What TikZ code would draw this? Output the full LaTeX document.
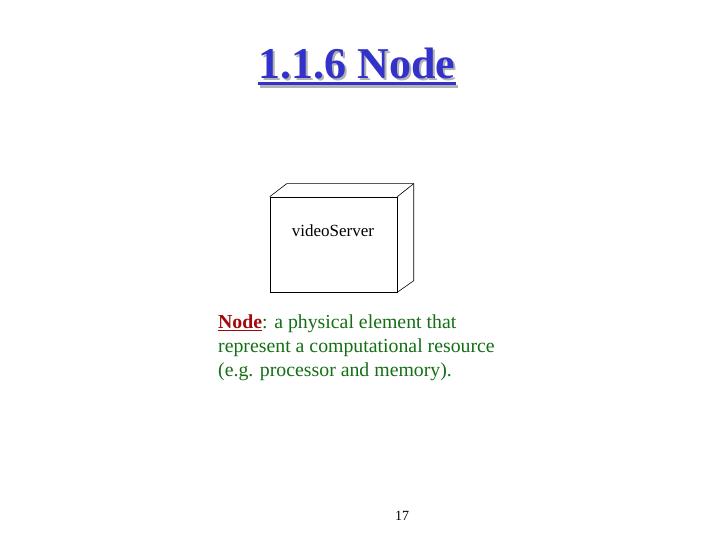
\documentclass[tikz,border=0pt]{standalone}
\usepackage{fontspec}
\setmainfont{Liberation Serif}
\usepackage{xcolor}
\usetikzlibrary{positioning,calc}
\definecolor{titleblue}{RGB}{51,51,204}
\definecolor{textgreen}{RGB}{20,110,20}
\definecolor{alertred}{RGB}{160,10,10}

\begin{document}
\begin{tikzpicture}[x=1pt,y=-1pt]
    \useasboundingbox (0,0) rectangle (720,540);

    % Title with its shadow
    \node[text=gray!60,inner sep=0pt,font=\fontsize{44}{48}\selectfont\bfseries] (titleshadow) at (359,66) {1.1.6 Node};
    \node[text=titleblue,inner sep=0pt,font=\fontsize{44}{48}\selectfont\bfseries] (title) at (357,64) {1.1.6 Node};
    \draw[gray!60,line width=3pt] ($(titleshadow.base west)+(0,6)$) -- ($(titleshadow.base east)+(0,6)$);
    \draw[titleblue,line width=3pt] ($(title.base west)+(0,4.5)$) -- ($(title.base east)+(0,4.5)$);

    % Node (3D box)
    \node[draw,semithick,minimum width=127pt,minimum height=95pt] (server) at (333.5,244.5) {};
    \node[font=\fontsize{17}{20}\selectfont] (servername) at (333,231) {videoServer};
    \draw[semithick] (server.north west) -- ++(17,-13) coordinate (backtl) -- ++(127,0) coordinate (backtr) -- ++(0,97) coordinate (backbr) -- (server.south east);
    \draw[semithick] (server.north east) -- (backtr);

    % Description
    \node[anchor=north west,align=left,text=textgreen,inner sep=0pt,font=\fontsize{19.8}{24}\selectfont] (desc) at (218,315)
        {\textcolor{alertred}{\textbf{\underline{Node}}}: a physical element that\\represent a computational resource\\(e.g. processor and memory).};

    % Page number
    \node[font=\fontsize{14}{16}\selectfont] (pagenum) at (402,516) {17};
\end{tikzpicture}
\end{document}
